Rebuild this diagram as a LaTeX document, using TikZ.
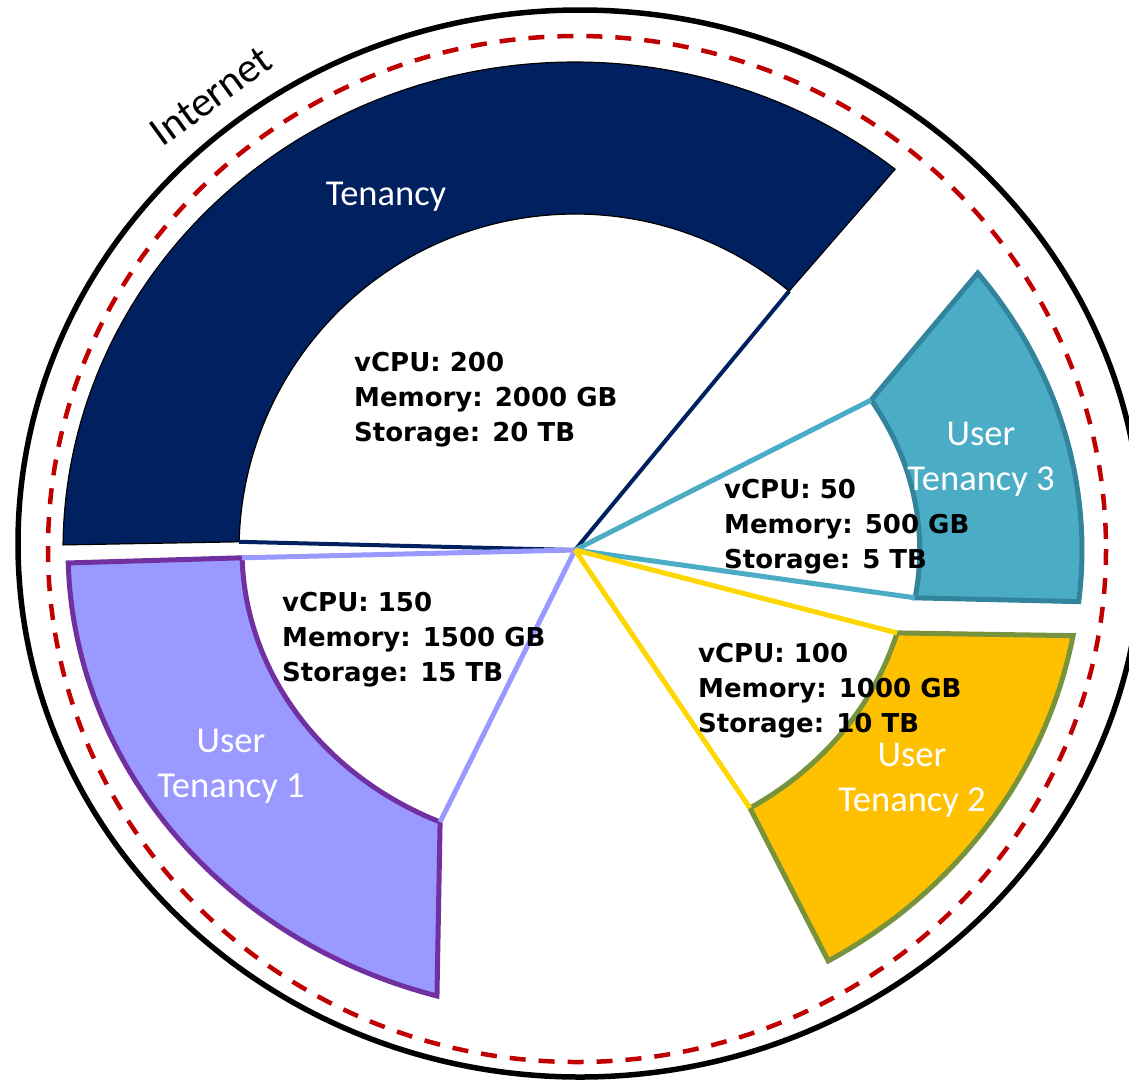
\documentclass[tikz,border=0pt]{standalone}
\usepackage{fontspec}
\setmainfont{Carlito}
\newfontfamily\statfont{DejaVu Sans}
\usetikzlibrary{calc}

\definecolor{navy}{HTML}{002060}
\definecolor{lavender}{HTML}{9999FF}
\definecolor{purpleedge}{HTML}{7030A0}
\definecolor{tealfill}{HTML}{4BACC6}
\definecolor{tealedge}{HTML}{31849B}
\definecolor{amber}{HTML}{FFC000}
\definecolor{oliveedge}{HTML}{77933C}
\definecolor{goldspoke}{HTML}{FFD700}
\definecolor{dashred}{HTML}{C00000}

\begin{document}
\begin{tikzpicture}[x=1pt,y=-1pt,
  tlabel/.style={text=white, align=center, inner sep=0pt,
                 font=\fontsize{36.5}{45}\selectfont},
  stats/.style={align=left, anchor=west, inner sep=0pt,
                font=\statfont\bfseries\fontsize{26}{35}\selectfont},
  spoke/.style={line width=5pt},
]
\useasboundingbox (0,0) rectangle (1129,1080);
\clip (0,0) rectangle (1129,1080);

% hub of all the sectors
\coordinate (C) at (575,550);

% internet boundary and the dashed perimeter
\draw[line width=5.5pt] (580,543.5) ellipse [x radius=562, y radius=533.5];
\draw[dashred, line width=4.5pt, dash pattern=on 16pt off 13pt]
  (577,549) ellipse [x radius=529, y radius=513];
\node[rotate=36, font=\fontsize{42}{50}\selectfont, inner sep=0pt] (internet) at (211,96) {Internet};

% main tenancy
\path (C) ++(180.6:512 and 488) coordinate (t-oa);
\path (C) ++(309.6:336) coordinate (t-ib);
\path (C) ++(181.4:336) coordinate (t-ia);
\filldraw[fill=navy, draw=black, line width=1.2pt]
  (t-oa) arc[start angle=180.6, end angle=308.7, x radius=512, y radius=488]
  -- (t-ib) arc[start angle=309.6, end angle=181.4, radius=336] -- cycle;

% user tenancy 1
\path (C) ++(178.4:507 and 463.5) coordinate (u1-oa);
\path (C) ++(113.9:333 and 297.5) coordinate (u1-ib);
\path (C) ++(178.5:333 and 297.5) coordinate (u1-ia);
\filldraw[fill=lavender, draw=purpleedge, line width=5pt]
  (u1-oa) arc[start angle=178.4, end angle=105.8, x radius=507, y radius=463.5]
  -- (u1-ib) arc[start angle=113.9, end angle=178.5, x radius=333, y radius=297.5] -- cycle;

% user tenancy 3
\path (C) ++(-37.4:507 and 456) coordinate (u3-oa);
\path (C) ++(9.4:344.7 and 292.8) coordinate (u3-ib);
\path (C) ++(-30.8:344.7 and 292.8) coordinate (u3-ia);
\filldraw[fill=tealfill, draw=tealedge, line width=5pt]
  (u3-oa) arc[start angle=-37.4, end angle=6.5, x radius=507, y radius=456]
  -- (u3-ib) arc[start angle=9.4, end angle=-30.8, x radius=344.7, y radius=292.8] -- cycle;

% user tenancy 2
\path (C) ++(10.4:506.4 and 474.5) coordinate (u2-oa);
\path (C) ++(58.5:334.8 and 302.6) coordinate (u2-ib);
\path (C) ++(15.9:334.8 and 302.6) coordinate (u2-ia);
\filldraw[fill=amber, draw=oliveedge, line width=5pt]
  (u2-oa) arc[start angle=10.4, end angle=60, x radius=506.4, y radius=474.5]
  -- (u2-ib) arc[start angle=58.5, end angle=15.9, x radius=334.8, y radius=302.6] -- cycle;

% spokes from the hub to the inner corners
\draw[navy, line width=4pt] (C) -- (t-ib);
\draw[navy, line width=4pt] (C) -- (t-ia);
\draw[lavender, spoke] (C) -- (u1-ia);
\draw[lavender, spoke] (C) -- (u1-ib);
\draw[tealfill, spoke] (C) -- (u3-ia);
\draw[tealfill, spoke] (C) -- (u3-ib);
\draw[goldspoke, spoke] (C) -- (u2-ia);
\draw[goldspoke, spoke] (C) -- (u2-ib);

% sector titles
\node[tlabel] (tname) at (386,197) {Tenancy};
\node[tlabel] (u1name) at (231,766.5) {User\\Tenancy 1};
\node[tlabel] (u2name) at (912,780) {User\\Tenancy 2};
\node[tlabel] (u3name) at (981,459.5) {User\\Tenancy 3};

% resource quotas
\node[stats] (tstats) at (354,400) {vCPU: 200\\Memory: 2000 GB\\Storage: 20 TB};
\node[stats] (u1stats) at (282,640) {vCPU: 150\\Memory: 1500 GB\\Storage: 15 TB};
\node[stats] (u3stats) at (724,527) {vCPU: 50\\Memory: 500 GB\\Storage: 5 TB};
\node[stats] (u2stats) at (698,691) {vCPU: 100\\Memory: 1000 GB\\Storage: 10 TB};
\end{tikzpicture}
\end{document}
